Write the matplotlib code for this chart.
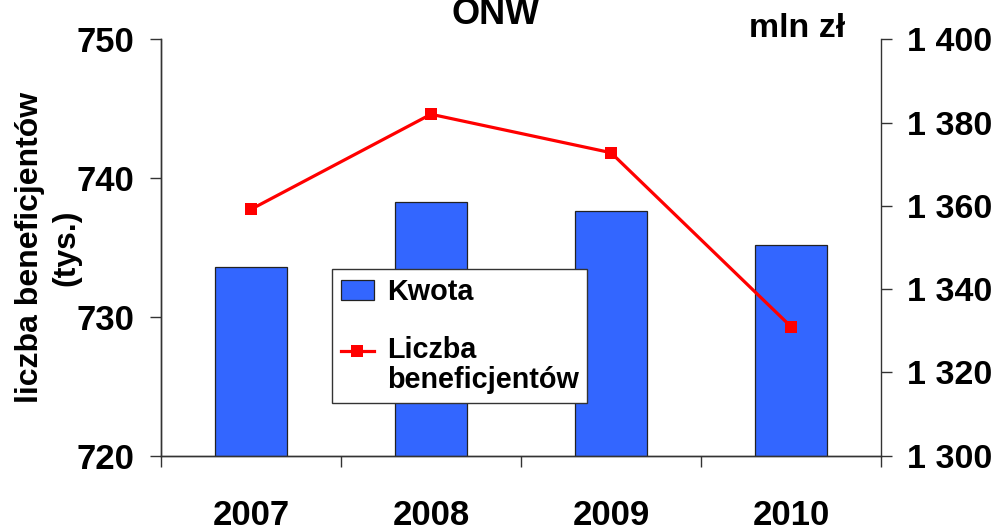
import matplotlib
matplotlib.use('Agg')
import matplotlib.pyplot as plt
from matplotlib.patches import Patch
from matplotlib.lines import Line2D
from matplotlib.legend_handler import HandlerLine2D

plt.rcParams['font.family'] = ['Liberation Sans', 'DejaVu Sans']
plt.rcParams['font.weight'] = 'bold'

years = ['2007', '2008', '2009', '2010']
kwota = [1345.2, 1361.0, 1358.8, 1350.5]          # mln zł (right axis)
beneficjenci = [737.75, 744.6, 741.83, 729.3]     # tys. (left axis)


class FirstLineHandler(HandlerLine2D):
    # put the line/marker next to the first line of a two-line label
    def create_artists(self, *args, **kwargs):
        arts = super().create_artists(*args, **kwargs)
        for a in arts:
            a.set_ydata([y + 11 for y in a.get_ydata()])
        return arts


fig = plt.figure(figsize=(10.01, 5.28), dpi=100)
ax = fig.add_axes([0.1608, 0.1369, 0.7193, 0.7887])
ax2 = ax.twinx()
ax.set_zorder(ax2.get_zorder() + 1)
ax.patch.set_visible(False)

x = list(range(len(years)))

# bars - Kwota on right axis
ax2.bar(x, kwota, width=0.4, color='#3366FF', edgecolor='#222222', linewidth=0.9)
ax2.set_ylim(1300, 1400)
ax2.set_yticks([1300, 1320, 1340, 1360, 1380, 1400])
ax2.set_yticklabels(['1 300', '1 320', '1 340', '1 360', '1 380', '1 400'])

# line - liczba beneficjentow on left axis
ax.plot(x, beneficjenci, color='#FF0000', linewidth=2.3, marker='s',
        markersize=8.5, markeredgewidth=0)
ax.set_ylim(720, 750)
ax.set_yticks([720, 730, 740, 750])
ax.set_xlim(-0.5, 3.5)

ax.set_xticks(x)
ax.set_xticklabels(years)
ax.set_xticks([-0.5, 0.5, 1.5, 2.5, 3.5], minor=True)
ax.tick_params(axis='x', which='major', length=0, pad=31, labelsize=25)
ax.tick_params(axis='x', which='minor', length=8, width=1, direction='out', color='#333333')
ax.tick_params(axis='y', length=8, width=1, pad=11, labelsize=25, color='#333333')
ax2.tick_params(axis='y', length=8, width=1, pad=11, labelsize=24.5, color='#333333')
ax2.tick_params(axis='x', length=0)

for a in (ax, ax2):
    a.spines['top'].set_visible(False)
    for s in ('left', 'right', 'bottom'):
        a.spines[s].set_color('#333333')
        a.spines[s].set_linewidth(1)
ax.spines['right'].set_visible(False)

fig.text(48 / 1001, 0.5312, 'liczba beneficjentów\n(tys.)', rotation=90,
         ha='center', va='center', fontsize=23, multialignment='center',
         linespacing=1.3)
fig.text(0.4955, 0.9545, 'ONW', ha='center', va='baseline', fontsize=26)
fig.text(0.796, 0.9305, 'mln zł', ha='center', va='baseline', fontsize=24.5)

bar_handle = Patch(facecolor='#3366FF', edgecolor='#222222', linewidth=0.9)
line_handle = Line2D([], [], color='#FF0000', linewidth=2.3, marker='s',
                     markersize=8.5, markeredgewidth=0)
leg = ax.legend([bar_handle, line_handle], ['Kwota', 'Liczba\nbeneficjentów'],
                loc='upper left', bbox_to_anchor=(0.3317, 0.49),
                bbox_transform=fig.transFigure, borderaxespad=0,
                fontsize=20.7, frameon=True, fancybox=False, framealpha=1,
                edgecolor='#333333', handlelength=1.15, handletextpad=0.45,
                labelspacing=1.05, borderpad=0.3,
                handler_map={line_handle: FirstLineHandler()})
leg.get_frame().set_linewidth(1)
leg.get_texts()[1].set_linespacing(1.1)

fig.savefig('out.png', dpi=100)
